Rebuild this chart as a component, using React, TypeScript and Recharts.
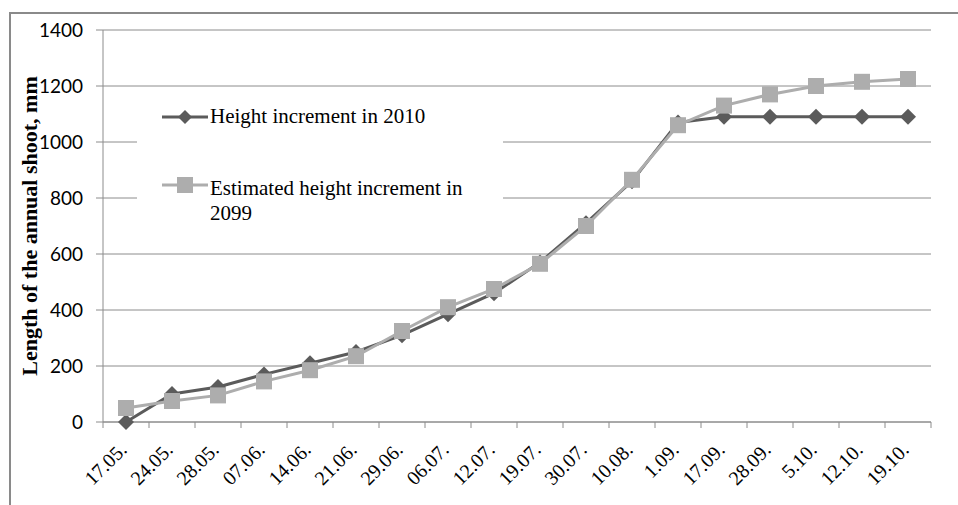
import React from 'react'
import { LineChart, Line, XAxis, YAxis, CartesianGrid, Legend } from 'recharts'

const dates = ['17.05.', '24.05.', '28.05.', '07.06.', '14.06.', '21.06.', '29.06.', '06.07.', '12.07.', '19.07.', '30.07.', '10.08.', '1.09.', '17.09.', '28.09.', '5.10.', '12.10.', '19.10.']
const height2010 = [0, 100, 125, 170, 210, 250, 310, 385, 460, 570, 710, 860, 1070, 1090, 1090, 1090, 1090, 1090]
const height2099 = [50, 75, 95, 145, 185, 235, 325, 410, 475, 565, 700, 865, 1060, 1130, 1170, 1200, 1215, 1225]
const yTicks = [0, 200, 400, 600, 800, 1000, 1200, 1400]

const data = dates.map((d, i) => ({ date: d, h2010: height2010[i], h2099: height2099[i] }))

const DARK = '#5b5b5b'
const LIGHT = '#adadad'
const GRID = '#8c8c8c'
const SERIF = '"Liberation Serif", "Times New Roman", serif'

// plot is 828px wide, 18 categories -> 46px per band
const HALF_BAND = 23

const Diamond = (props: any) => {
  const { cx, cy } = props
  if (cx == null || cy == null) return null
  const r = 8
  return <path d={`M${cx},${cy - r}L${cx + r},${cy}L${cx},${cy + r}L${cx - r},${cy}Z`} fill={DARK} />
}

const Square = (props: any) => {
  const { cx, cy } = props
  if (cx == null || cy == null) return null
  const s = 16
  return <rect x={cx - s / 2} y={cy - s / 2} width={s} height={s} fill={LIGHT} />
}

const XTick = (props: any) => {
  const { x, y, payload, index } = props
  const top = y - 8
  return (
    <g>
      <line x1={x - HALF_BAND} x2={x - HALF_BAND} y1={top} y2={top + 6} stroke={GRID} />
      {index === dates.length - 1 && <line x1={x + HALF_BAND} x2={x + HALF_BAND} y1={top} y2={top + 6} stroke={GRID} />}
      <text
        transform={`translate(${x + 2},${y + 21}) rotate(-45)`}
        textAnchor="end"
        fontFamily={SERIF}
        fontSize={20}
        fill="#000"
      >
        {payload.value}
      </text>
    </g>
  )
}

const LegendBox = () => (
  <svg width={366} height={150}>
    <line x1={25} x2={71} y1={22} y2={22} stroke={DARK} strokeWidth={3} />
    <path d="M48,15L55,22L48,29L41,22Z" fill={DARK} />
    <text x={73} y={28} fontFamily={SERIF} fontSize={21} fill="#000">Height increment in 2010</text>
    <line x1={25} x2={71} y1={90} y2={90} stroke={LIGHT} strokeWidth={3} />
    <rect x={40} y={82} width={16} height={16} fill={LIGHT} />
    <text x={73} y={100} fontFamily={SERIF} fontSize={21} fill="#000">Estimated height increment in</text>
    <text x={73} y={125} fontFamily={SERIF} fontSize={21} fill="#000">2099</text>
  </svg>
)

export default function App() {
  return (
    <div style={{ position: 'fixed', left: 0, top: 0, width: 958, height: 505, background: '#fff' }}>
      <div
        style={{
          position: 'absolute',
          left: 9,
          top: 12,
          right: 0,
          bottom: 0,
          borderTop: '2px solid #8a8a8a',
          borderLeft: '2px solid #8a8a8a'
        }}
      />
      <div style={{ position: 'absolute', left: 0, top: 0 }}>
        <LineChart width={958} height={505} data={data} margin={{ top: 30, right: 27, bottom: 0, left: 0 }}>
          <CartesianGrid vertical={false} stroke={GRID} />
          <XAxis
            dataKey="date"
            height={83}
            interval={0}
            padding={{ left: HALF_BAND, right: HALF_BAND }}
            stroke={GRID}
            tickLine={false}
            tickSize={6}
            tickMargin={2}
            tick={<XTick />}
          />
          <YAxis
            width={103}
            domain={[0, 1400]}
            ticks={yTicks}
            stroke={GRID}
            tickSize={7}
            tickMargin={13}
            tick={{ fill: '#000', fontFamily: 'Lato, sans-serif', fontSize: 19 }}
            label={{
              value: 'Length of the annual shoot, mm',
              angle: -90,
              position: 'insideLeft',
              offset: 0,
              dx: 29,
              style: { textAnchor: 'middle', fontFamily: SERIF, fontWeight: 'bold', fontSize: 22, fill: '#000' }
            }}
          />
          <Legend
            content={<LegendBox />}
            layout="horizontal"
            verticalAlign="middle"
            align="center"
            wrapperStyle={{ left: 137, top: 95, width: 366, height: 150, background: '#fff' }}
          />
          <Line dataKey="h2010" stroke={DARK} strokeWidth={3} dot={<Diamond />} activeDot={false} isAnimationActive={false} />
          <Line dataKey="h2099" stroke={LIGHT} strokeWidth={3} dot={<Square />} activeDot={false} isAnimationActive={false} />
        </LineChart>
      </div>
    </div>
  )
}
